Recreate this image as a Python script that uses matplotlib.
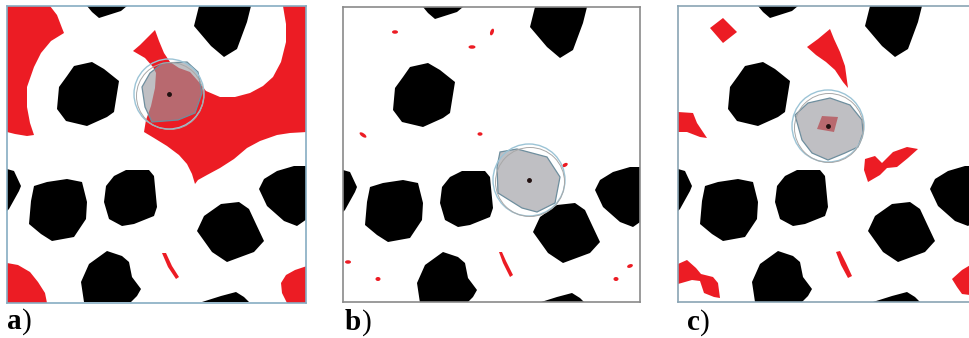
import matplotlib
matplotlib.use("Agg")
import matplotlib.pyplot as plt
from matplotlib.patches import Polygon, Circle, Ellipse

# ---------------- data (panel-local pixel units, y down) ----------------
OBSTACLES = [
    [(80, 0), (120, 0), (114, 5), (92, 12), (85, 6)],
    [(67, 60), (85, 56), (97, 63), (112, 75), (107, 106), (100, 111), (80, 120),
     (59, 115), (50, 103), (52, 81), (60, 70)],
    [(192, 0), (244, 0), (240, 16), (230, 43), (217, 51), (204, 40), (187, 20)],
    [(0, 163), (7, 165), (14, 180), (12, 185), (2, 203), (0, 205)],
    [(27, 180), (40, 176), (60, 173), (75, 176), (80, 196), (79, 213), (67, 231),
     (45, 235), (34, 228), (22, 218), (24, 195)],
    [(99, 180), (107, 170), (119, 164), (142, 164), (147, 170), (150, 201),
     (147, 210), (127, 218), (115, 220), (102, 213), (97, 196)],
    [(74, 276), (82, 258), (100, 245), (115, 250), (122, 256), (125, 271),
     (134, 283), (130, 290), (124, 296), (77, 296)],
    [(197, 210), (214, 198), (232, 196), (242, 203), (249, 218), (257, 235),
     (247, 246), (220, 256), (205, 246), (190, 225)],
    [(257, 173), (270, 165), (287, 160), (300, 160), (300, 213), (290, 220),
     (277, 215), (260, 200), (252, 183)],
    [(195, 296), (214, 290), (229, 286), (237, 291), (242, 296)],
]

RED_A = [
    [(0, 0), (43, 0), (50, 9), (55, 22), (57, 27), (44, 35), (34, 47), (27, 61),
     (20, 81), (20, 101), (23, 117), (27, 129), (20, 130), (8, 128), (0, 126)],
    [(148, 24), (152, 35), (157, 47), (163, 56), (172, 62), (183, 66), (191, 75),
     (199, 85), (213, 91), (228, 91), (243, 87), (256, 80), (266, 71), (274, 56),
     (279, 36), (279, 18), (276, 0), (300, 0), (300, 126), (283, 127), (270, 129),
     (253, 135), (240, 142), (227, 153), (213, 162), (200, 169), (191, 174),
     (188, 178), (185, 168), (180, 158), (172, 149), (160, 140), (147, 132),
     (137, 126), (139, 114), (144, 100), (148, 82), (149, 67), (146, 61),
     (138, 52), (126, 45), (133, 39), (141, 31)],
    [(0, 257), (11, 259), (23, 266), (31, 276), (38, 287), (40, 297), (0, 297)],
    [(300, 260), (288, 264), (279, 269), (274, 277), (275, 287), (280, 297), (300, 297)],
    [(155, 247), (159, 247), (165, 260), (172, 271), (169, 273), (161, 261)],
]

RED_B_STREAK = [(156, 245), (159, 245), (163, 254), (170, 268), (167, 270), (160, 256)]
RED_B_DOTS = [  # x, y, w, h, angle
    (52, 25, 6, 3.5, 0), (149, 25, 3.5, 7, 20), (129, 40, 7, 3.5, 0),
    (20, 128, 8, 3.5, 35), (137, 127, 5, 3.5, 0), (222, 158, 6, 3.5, -30),
    (287, 259, 6, 3.5, -20), (273, 272, 5, 4, 0), (5, 255, 6, 3.5, 0),
    (35, 272, 5, 4, 0),
]

RED_C = [
    [(32, 22), (45, 12), (59, 26), (45, 37)],
    [(0, 106), (15, 107), (19, 117), (29, 132), (22, 131), (9, 126), (0, 126)],
    [(129, 41), (140, 33), (152, 23), (156, 33), (162, 46), (167, 60), (170, 82),
     (165, 76), (157, 64), (148, 56), (138, 49)],
    [(187, 153), (197, 150), (204, 157), (215, 146), (229, 141), (240, 143),
     (230, 152), (219, 161), (209, 162), (202, 169), (190, 176), (186, 164)],
    [(0, 258), (9, 254), (18, 262), (23, 268), (35, 271), (40, 277), (42, 292),
     (36, 291), (26, 287), (22, 275), (14, 274), (0, 278)],
    [(158, 246), (162, 245), (168, 257), (174, 270), (170, 272), (163, 259)],
    [(274, 273), (284, 264), (294, 258), (300, 257), (300, 290), (284, 288), (279, 281)],
    [(139, 123), (144, 110), (160, 111), (156, 126)],
]

ROBOT_A = [(143, 67), (156, 57), (180, 56), (191, 66), (195, 87), (188, 107),
           (171, 114), (145, 116), (138, 101), (135, 81)]
ROBOT_B = [(157, 145), (174, 142), (204, 150), (217, 170), (212, 196), (194, 205),
           (179, 201), (155, 186), (154, 160)]
ROBOT_C = [(117, 109), (130, 97), (152, 92), (172, 99), (184, 114), (185, 127),
           (180, 141), (167, 147), (150, 154), (134, 147), (124, 134)]
CENTERS = [(162, 88), (186, 173), (150, 120)]
RADII = [35, 36, 36]

LABELS = ["a", "b", "c"]

# ---------------- layout ----------------
W, H = 970, 338
fig = plt.figure(figsize=(W / 100, H / 100), dpi=100)

frames = [(7, 6, 299, 297), (343, 7, 297, 295), (678, 6, 297, 296)]
spine_cols = ["#86adc2", "#8a8a8a", "#8aa4b4"]
RED = "#ec1c24"

robots = [ROBOT_A, ROBOT_B, ROBOT_C]

for i, (x0, y0, w, h) in enumerate(frames):
    ax = fig.add_axes([x0 / W, 1 - (y0 + h) / H, w / W, h / H])
    ax.set_xlim(0, w)
    ax.set_ylim(h, 0)
    ax.set_xticks([])
    ax.set_yticks([])
    for s in ax.spines.values():
        s.set_color(spine_cols[i])
        s.set_linewidth(1.2)

    # red regions
    if i == 0:
        for poly in RED_A:
            ax.add_patch(Polygon(poly, closed=True, fc=RED, ec="none", zorder=1))
    elif i == 1:
        ax.add_patch(Polygon(RED_B_STREAK, closed=True, fc=RED, ec="none", zorder=1))
        for (x, y, ew, eh, ang) in RED_B_DOTS:
            ax.add_patch(Ellipse((x, y), ew, eh, angle=ang, fc=RED, ec="none", zorder=1))
    else:
        for poly in RED_C:
            ax.add_patch(Polygon(poly, closed=True, fc=RED, ec="none", zorder=1))

    # obstacles
    for poly in OBSTACLES:
        ax.add_patch(Polygon(poly, closed=True, fc="black", ec="none", zorder=2))

    # robot
    cx, cy = CENTERS[i]
    ax.add_patch(Polygon(robots[i], closed=True, fc=(0.6, 0.6, 0.62, 0.62),
                         ec="#6e8e9e", lw=0.9, zorder=3))
    ax.add_patch(Circle((cx, cy), RADII[i], fill=False, ec="#9cc4d6", lw=1.0, zorder=4))
    ax.add_patch(Circle((cx + 1, cy + 2), RADII[i] - 1.5, fill=False, ec="#a8a8a8",
                        lw=0.7, zorder=4))
    ax.plot([cx], [cy], "o", ms=2.5, color="#201010", zorder=5)

# labels
lab_pos = [(7, 329), (345, 330), (687, 330)]
adv = [15, 17, 13]
for (lx, ly), lab, a in zip(lab_pos, LABELS, adv):
    fig.text(lx / W, 1 - ly / H, lab, fontsize=21, fontweight="bold",
             family="Liberation Serif", ha="left", va="baseline")
    fig.text((lx + a) / W, 1 - ly / H, ")", fontsize=21,
             family="Liberation Serif", ha="left", va="baseline")

fig.savefig("out.png", dpi=100)
